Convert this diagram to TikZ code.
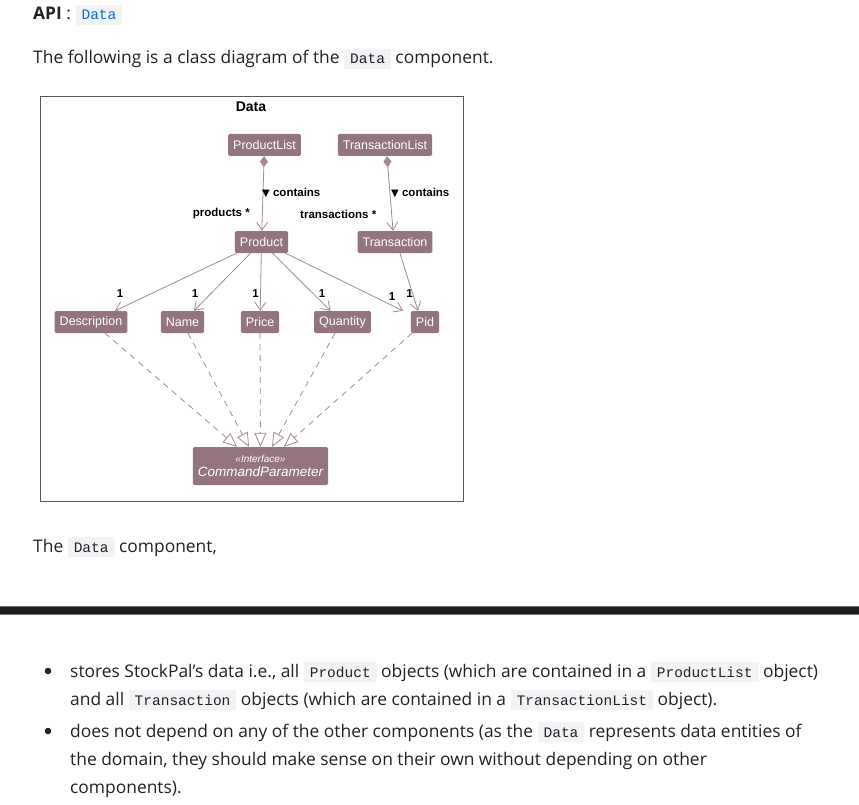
\documentclass[tikz,border=0pt]{standalone}
\usepackage{fontspec}
\setmainfont{Open Sans}
\newfontfamily\umlfont{Liberation Sans}
\newfontfamily\codefont{Liberation Mono}
\newfontfamily\symfont{DejaVu Sans}
\usetikzlibrary{positioning,arrows.meta}
\definecolor{umlbox}{HTML}{937480}
\definecolor{umlline}{HTML}{A38994}
\definecolor{pagetext}{HTML}{1F2328}
\definecolor{codebg}{HTML}{F2F3F4}
\definecolor{linkblue}{HTML}{0969DA}
\definecolor{barblack}{HTML}{1E1E1E}
\newcommand\code[2][pagetext]{{\setlength{\fboxsep}{0pt}\colorbox{codebg}{\rule[-5pt]{0pt}{20pt}\hspace{6pt}\textcolor{#1}{\codefont\fontsize{14.5}{16}\selectfont #2}\hspace{6pt}}}}

\begin{document}
\begin{tikzpicture}[x=1pt,y=-1pt,
    classbox/.style={fill=umlbox,rounded corners=1.5pt,text=white,inner xsep=5pt,inner ysep=0pt,minimum height=22pt,font=\umlfont\fontsize{12.5}{14}\selectfont},
    assoc/.style={draw=umlline,line width=0.8pt,-{Straight Barb[length=8pt,width=11pt]}},
    compo/.style={assoc,{Diamond[fill=umlline,length=11pt,width=8pt]}-{Straight Barb[length=8pt,width=11pt]}},
    realize/.style={draw=umlline,line width=0.8pt,dash pattern=on 6pt off 5pt,-{Triangle[open,length=14pt,width=12pt]}},
    mult/.style={font=\umlfont\bfseries\fontsize{11.5}{13}\selectfont,inner sep=0pt},
    para/.style={anchor=base west,inner sep=0pt,text=pagetext,font=\fontsize{17.4}{20}\selectfont}]
    \useasboundingbox[fill=white] (0,0) rectangle (859,805);

    % page text above the diagram
    \node[para] (api) at (33,20) {\textbf{API} : \code[linkblue]{Data}};
    \node[para] (intro) at (33,64) {The following is a class diagram of the \code{Data} component.};

    % the Data package
    \draw[black!65,line width=0.8pt] (40,96) rectangle (463,501);
    \node[font=\umlfont\bfseries\fontsize{14}{16}\selectfont] (pkg) at (251,107) {Data};

    \node[classbox] (plist) at (264.5,145) {ProductList};
    \node[classbox] (tlist) at (385,145) {TransactionList};
    \node[classbox] (product) at (261.5,242) {Product};
    \node[classbox] (trans) at (395,242) {Transaction};

    \node[classbox] (desc) at (91,322) {Description};
    \node[classbox] (name) at (182.5,322) {Name};
    \node[classbox] (price) at (260,322) {Price};
    \node[classbox] (qty) at (342.5,322) {Quantity};
    \node[classbox] (pid) at (425,322) {Pid};

    \node[classbox,minimum width=131pt,minimum height=38pt,align=center] (cmdparam) at (260.5,466)
        {{\itshape\fontsize{10}{11}\selectfont «Interface»}\\[0pt]{\itshape\fontsize{13.5}{15}\selectfont CommandParameter}};

    % containment
    \draw[compo] (plist) -- (product);
    \draw[compo] ([xshift=2pt]tlist.south) -- ([xshift=-2pt]trans.north);
    \node[mult,anchor=west] (pcont) at (262,193) {{\symfont\fontsize{10}{12}\selectfont ▼} contains};
    \node[mult,anchor=west] (tcont) at (391,193) {{\symfont\fontsize{10}{12}\selectfont ▼} contains};
    \node[mult,anchor=east] (prole) at (250,214) {products *};
    \node[mult,anchor=west] (trole) at (300,214) {transactions *};

    % attributes
    \draw[assoc] ([xshift=-25pt]product.south) -- ([xshift=24pt]desc.north);
    \draw[assoc] ([xshift=-11pt]product.south) -- ([xshift=11.5pt]name.north);
    \draw[assoc] (product) -- (price);
    \draw[assoc] ([xshift=11pt]product.south) -- ([xshift=-12pt]qty.north);
    \draw[assoc] ([xshift=24pt]product.south) -- ([xshift=-22pt]pid.north);
    \draw[assoc] ([xshift=5pt]trans.south) -- ([xshift=-7pt]pid.north);
    \node[mult] (m1) at (120,294) {1};
    \node[mult] (m2) at (195,294) {1};
    \node[mult] (m3) at (255.5,294) {1};
    \node[mult] (m4) at (322,294) {1};
    \node[mult] (m5) at (392,297) {1};
    \node[mult] (m6) at (409.5,294) {1};

    % realizations
    \draw[realize] ([xshift=14pt]desc.south) -- ([xshift=-23.5pt]cmdparam.north);
    \draw[realize] ([xshift=5.5pt]name.south) -- ([xshift=-11.5pt]cmdparam.north);
    \draw[realize] (price) -- (cmdparam);
    \draw[realize] ([xshift=-7.5pt]qty.south) -- ([xshift=11.5pt]cmdparam.north);
    \draw[realize] ([xshift=-13pt]pid.south) -- ([xshift=23.5pt]cmdparam.north);

    % page text below the diagram
    \node[para] (after) at (33,552) {The \code{Data} component,};
    \fill[barblack] (0,606) rectangle (859,614);
    \draw[black!55] (0,606) -- (859,606) (0,614) -- (859,614);

    \fill[pagetext] (48,671) circle (3.3pt);
    \node[para] (b1) at (70,677) {stores StockPal’s data i.e., all \code{Product} objects (which are contained in a \code{ProductList} object)};
    \node[para] (b1b) at (70,705) {and all \code{Transaction} objects (which are contained in a \code{TransactionList} object).};
    \fill[pagetext] (48,731) circle (3.3pt);
    \node[para] (b2) at (70,737) {does not depend on any of the other components (as the \code{Data} represents data entities of};
    \node[para] (b2b) at (70,765) {the domain, they should make sense on their own without depending on other};
    \node[para] (b2c) at (70,793) {components).};
\end{tikzpicture}
\end{document}
